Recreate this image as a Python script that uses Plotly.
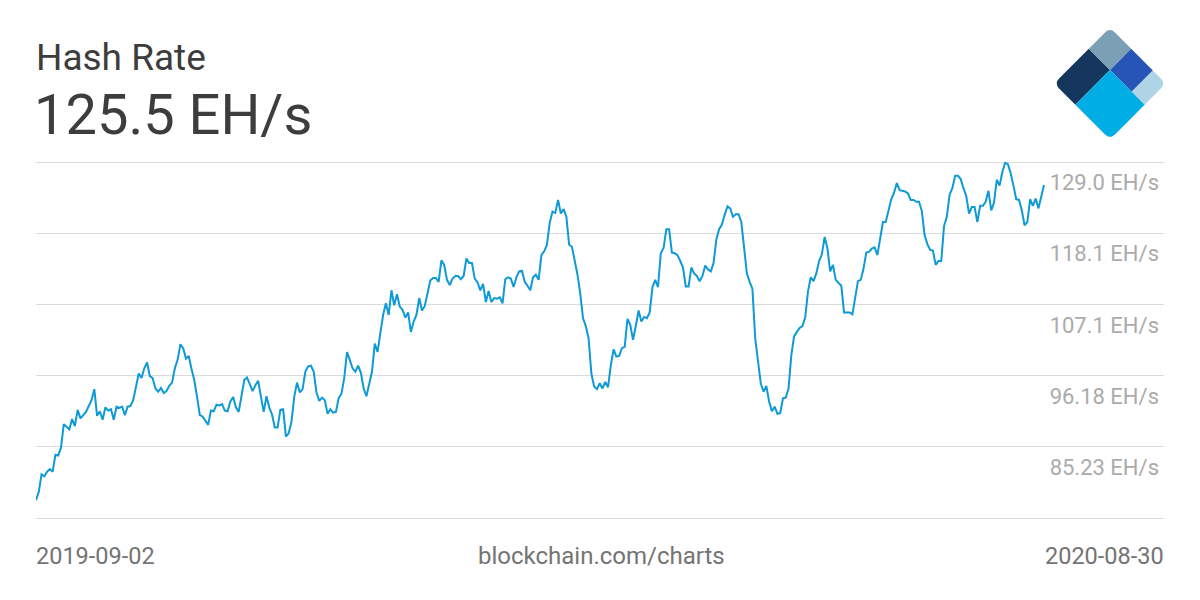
import math
import pandas as pd
import plotly.graph_objects as go

# ---------------- data ----------------
title_text = "Hash Rate"
current_value_text = "125.5 EH/s"
source_text = "blockchain.com/charts"
start_date = "2019-09-02"
end_date = "2020-08-30"

# daily hash rate, EH/s
hash_rate = [
    77.0, 78.3, 81.0, 80.7, 81.4, 81.8, 81.4, 84.0, 83.9, 85.1,
    88.7, 88.3, 87.9, 89.5, 88.4, 90.9, 89.6, 90.1, 90.6, 91.5,
    92.4, 94.1, 90.0, 90.7, 89.4, 91.3, 90.8, 91.0, 89.4, 91.4,
    91.2, 91.4, 90.1, 91.4, 91.5, 92.4, 94.7, 96.5, 95.8, 97.3,
    98.2, 96.1, 95.8, 94.2, 93.7, 94.3, 93.5, 93.8, 94.6, 95.1,
    97.3, 98.6, 101.0, 100.4, 98.8, 99.2, 97.2, 95.5, 92.9, 90.1,
    89.9, 89.2, 88.6, 90.8, 90.7, 91.7, 91.6, 91.8, 90.8, 90.7,
    92.2, 92.9, 91.3, 90.6, 92.9, 95.5, 95.9, 94.7, 93.8, 94.7,
    95.4, 92.9, 90.6, 93.0, 91.3, 90.2, 88.2, 88.2,
    90.9, 91.0, 86.8, 87.3, 89.1, 92.9, 95.1, 93.6, 94.1, 96.8,
    97.6, 97.7, 96.8, 93.6, 92.3, 92.8, 92.4, 90.3, 91.0, 90.5,
    90.6, 92.7, 93.4, 95.8, 99.8, 98.6, 97.3, 96.8, 97.7, 96.6,
    94.2, 93.0, 94.7, 96.8, 101.1, 99.8, 102.7, 105.5, 107.3, 105.5,
    109.3, 107.0, 108.7, 106.8, 106.3, 105.1, 105.9, 102.9, 104.5, 105.5,
    108.1, 106.2, 106.9, 109.1, 110.8, 111.2, 111.2, 110.6, 113.9, 113.2,
    110.9, 110.1, 111.1, 111.5, 111.5, 111.0, 111.5, 114.2, 113.5, 113.5,
    111.1, 110.5, 109.3, 110.3, 107.5, 109.2, 107.5, 108.1, 108.0, 108.2,
    107.3, 111.0, 111.3, 111.1, 109.8, 111.3, 112.2, 112.3, 110.6, 110.0,
    109.3, 111.3, 111.7, 110.9, 114.7, 115.3, 116.3, 119.7, 121.4, 121.2,
    123.2, 121.1, 121.8, 120.6, 116.3, 116.0, 114.0, 111.7, 108.8, 105.0,
    103.8, 101.9, 96.5, 94.5, 94.1, 95.0, 94.2, 95.2, 94.4, 97.8,
    100.2, 99.1, 99.2, 100.4, 100.6, 104.9, 104.0, 101.7, 103.8, 106.2,
    104.5, 105.2, 105.0, 105.9, 109.8, 110.9, 109.8, 115.0, 115.8, 118.7,
    118.7, 115.1, 115.0, 114.7, 113.8, 112.8, 109.9, 109.9, 112.8, 111.9,
    111.5, 110.7, 111.5, 113.1, 112.5, 112.2, 113.5, 117.1, 118.7, 119.4,
    120.9, 122.2, 121.9, 120.6, 121.0, 121.0, 119.8, 115.8, 111.9, 110.6,
    109.5, 101.9, 98.1, 95.0, 93.7, 94.6, 92.2, 90.7, 91.4, 90.3,
    90.4, 92.7, 92.8, 94.2, 99.3, 102.2, 102.9, 103.5, 103.8, 105.1,
    109.1, 111.3, 110.7, 111.9, 113.8, 114.8, 117.5, 115.8, 112.2, 113.2,
    110.9, 110.5, 110.0, 105.9, 105.9, 105.9, 105.6, 108.2, 110.7, 110.9,
    112.6, 115.1, 115.2, 115.7, 115.9, 114.7, 117.3, 119.8, 119.8, 121.6,
    123.3, 124.3, 125.8, 124.7, 124.6, 124.5, 124.2, 123.2, 123.2, 122.9,
    122.9, 121.5, 117.8, 116.4, 115.5, 115.4, 113.2, 113.8, 113.8, 119.2,
    120.6, 124.0, 125.0, 126.9, 126.9, 126.4, 125.0, 123.8, 121.1, 122.1,
    122.1, 119.8, 122.3, 122.3, 122.9, 124.6, 121.6, 122.8, 126.3, 125.4,
    127.5, 128.9, 128.7, 127.3, 125.4, 123.3, 123.2, 121.6, 119.3, 119.8,
    123.3, 122.3, 123.4, 121.9, 123.7, 125.5,
]

y_tick_values = [74.28, 85.23, 96.18, 107.13, 118.08, 129.03]
y_tick_labels = ["", "85.23 EH/s", "96.18 EH/s", "107.1 EH/s", "118.1 EH/s", "129.0 EH/s"]

dates = pd.date_range(start_date, end_date, freq="D")
assert len(dates) == len(hash_rate), (len(dates), len(hash_rate))

# ---------------- layout geometry (pixels) ----------------
W, H = 1200, 600
GRID_TOP, GRID_BOTTOM = 162, 518       # pixel rows of the top/bottom gridlines
PAD = 3                                # keep edge gridlines away from the plot border
PL, PR, PT, PB = 36, 1164, GRID_TOP - PAD, GRID_BOTTOM + PAD
DATA_END_PX = 1044                     # where the last point sits horizontally


def paper_x(x):
    return (x - PL) / (PR - PL)


def paper_y(y):
    return (PB - y) / (PB - PT)


span = dates[-1] - dates[0]
x_end = dates[0] + span * ((PR - PL) / (DATA_END_PX - PL))

per_px = (y_tick_values[-1] - y_tick_values[0]) / (GRID_BOTTOM - GRID_TOP)
y_range = [y_tick_values[0] - PAD * per_px, y_tick_values[-1] + PAD * per_px]

fig = go.Figure(
    go.Scatter(
        x=dates,
        y=hash_rate,
        mode="lines",
        line=dict(color="#0e9ad6", width=2),
        hovertemplate="%{x|%Y-%m-%d}<br>%{y:.1f} EH/s<extra></extra>",
    )
)

fig.update_layout(
    width=W,
    height=H,
    margin=dict(l=PL, r=W - PR, t=PT, b=H - PB, pad=0),
    paper_bgcolor="white",
    plot_bgcolor="white",
    showlegend=False,
    font=dict(family="Roboto, sans-serif"),
)

fig.update_xaxes(
    type="date",
    range=[dates[0], x_end],
    showgrid=False,
    zeroline=False,
    showline=False,
    showticklabels=False,
    ticks="",
)

fig.update_yaxes(
    range=y_range,
    tickmode="array",
    tickvals=y_tick_values,
    ticktext=y_tick_labels,
    side="right",
    ticklabelposition="inside bottom",
    ticklabelstandoff=2,
    ticklabelshift=5,
    ticks="",
    showgrid=True,
    gridcolor="#dadada",
    gridwidth=1,
    zeroline=False,
    showline=False,
    tickfont=dict(family="Roboto, sans-serif", size=22, color="#ababab"),
)

# ---------------- text ----------------
annotations = [
    dict(text=title_text, x=paper_x(34), y=paper_y(57.5), xanchor="left", yanchor="middle",
         font=dict(size=37, color="#3d3d3d")),
    dict(text=current_value_text, x=paper_x(32), y=paper_y(115.5), xanchor="left", yanchor="middle",
         font=dict(size=56, color="#3d3d3d")),
    dict(text=dates[0].strftime("%Y-%m-%d"), x=paper_x(34), y=paper_y(556), xanchor="left",
         yanchor="middle", font=dict(size=23.5, color="#747474")),
    dict(text=source_text, x=paper_x(601), y=paper_y(556), xanchor="center", yanchor="middle",
         font=dict(size=24, color="#747474")),
    dict(text=dates[-1].strftime("%Y-%m-%d"), x=paper_x(1166), y=paper_y(556), xanchor="right",
         yanchor="middle", font=dict(size=23.5, color="#747474")),
]
for a in annotations:
    a.update(xref="paper", yref="paper", showarrow=False, font_family="Roboto, sans-serif")
fig.update_layout(annotations=annotations)

# ---------------- logo (rotated square split into five tiles) ----------------
LOGO_CX, LOGO_CY = 1110, 83.5
S = 79.0
RAD = 7.0
left_vertex = (LOGO_CX - S / math.sqrt(2), LOGO_CY)
e1 = (1 / math.sqrt(2), -1 / math.sqrt(2))
e2 = (1 / math.sqrt(2), 1 / math.sqrt(2))


def logo_pt(a, b):
    x = left_vertex[0] + a * e1[0] + b * e2[0]
    y = left_vertex[1] + a * e1[1] + b * e2[1]
    return x, y


def tile_path(a0, a1, b0, b1, rounded):
    verts = [(a0, b0), (a1, b0), (a1, b1), (a0, b1)]
    parts = []
    n = len(verts)
    for i, v in enumerate(verts):
        p = verts[i - 1]
        q = verts[(i + 1) % n]
        cmd = "M" if i == 0 else "L"
        if v in rounded:
            def toward(u, w):
                dx, dy = w[0] - u[0], w[1] - u[1]
                d = math.hypot(dx, dy)
                return (u[0] + RAD * dx / d, u[1] + RAD * dy / d)
            pts = [logo_pt(*toward(v, p)), logo_pt(*v), logo_pt(*toward(v, q))]
            parts.append(f"{cmd}{paper_x(pts[0][0]):.5f},{paper_y(pts[0][1]):.5f}")
            parts.append(f"Q{paper_x(pts[1][0]):.5f},{paper_y(pts[1][1]):.5f} "
                         f"{paper_x(pts[2][0]):.5f},{paper_y(pts[2][1]):.5f}")
        else:
            x, y = logo_pt(*v)
            parts.append(f"{cmd}{paper_x(x):.5f},{paper_y(y):.5f}")
    return " ".join(parts) + " Z"


A_SPLIT, B_SPLIT1, B_SPLIT2 = 49.0, 30.0, 60.6
tiles = [
    (0, A_SPLIT, 0, B_SPLIT1, {(0, 0)}, "#15375e"),
    (A_SPLIT, S, 0, B_SPLIT1, {(S, 0)}, "#7b9fb4"),
    (A_SPLIT, S, B_SPLIT1, B_SPLIT2, set(), "#2754b7"),
    (A_SPLIT, S, B_SPLIT2, S, {(S, S)}, "#afd4e6"),
    (0, A_SPLIT, B_SPLIT1, S, {(0, S)}, "#00ade5"),
]
shapes = []
for a0, a1, b0, b1, rnd, col in tiles:
    shapes.append(dict(type="path", xref="paper", yref="paper",
                       path=tile_path(a0, a1, b0, b1, rnd),
                       fillcolor=col, line=dict(width=0), layer="above"))
fig.update_layout(shapes=shapes)

fig.write_html(
    "out.html",
    config={"displayModeBar": False},
    post_script="document.body.style.margin='0px';document.body.style.padding='0px';",
)
